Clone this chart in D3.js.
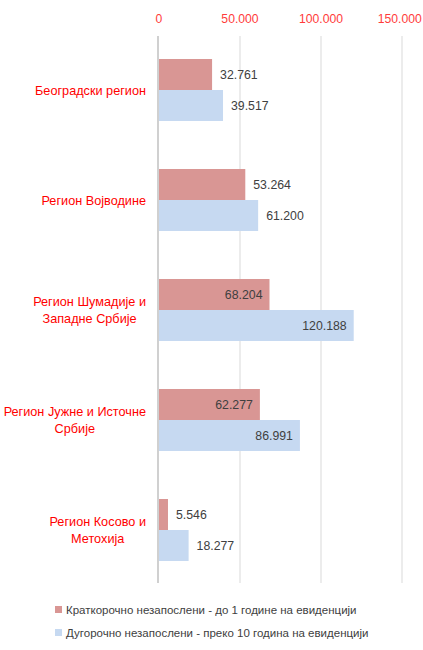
<!DOCTYPE html>
<html><head><meta charset="utf-8">
<script src="https://cdn.jsdelivr.net/npm/d3@7"></script>
<style>body{margin:0;background:#fff}svg{display:block}text{font-family:"Liberation Sans",Arial,sans-serif}</style>
</head><body>
<svg id="c" width="423" height="650"></svg>
<script>
const categories = [
  ["Београдски регион"],
  ["Регион Војводине"],
  ["Регион Шумадије и", "Западне Србије"],
  ["Регион Јужне и Источне", "Србије"],
  ["Регион Косово и", "Метохија"]
];
const seriesNames = [
  "Краткорочно незапослени - до 1 године на евиденцији",
  "Дугорочно незапослени - преко 10 година на евиденцији"
];
const shortTerm = [32761, 53264, 68204, 62277, 5546];
const longTerm = [39517, 61200, 120188, 86991, 18277];
// label placement: true = inside end of bar
const shortInside = [false, false, true, true, false];
const longInside = [false, false, true, true, false];
const xTicks = [0, 50000, 100000, 150000];
const colors = ["#d99694", "#c6d9f1"];

const loc = d3.formatLocale({thousands: ".", decimal: ",", grouping: [3], currency: ["", ""]});
const fmt = loc.format(",d");

const svg = d3.select("#c");
const x = d3.scaleLinear().domain([0, 150000]).range([159, 402]);
const y0 = d3.scaleBand().domain(categories.map((d, i) => i)).range([35, 585])
  .paddingInner(0.4364).paddingOuter(0.2182);
const y1 = d3.scaleBand().domain([0, 1]).range([0, y0.bandwidth()]);

// gridlines
svg.append("g").selectAll("line").data(xTicks.slice(1)).join("line")
  .attr("x1", d => x(d)).attr("x2", d => x(d)).attr("y1", 36).attr("y2", 583)
  .attr("stroke", "#d9d9d9").attr("stroke-width", 1);

// tick labels
svg.append("g").selectAll("text").data(xTicks).join("text")
  .attr("x", d => x(d)).attr("y", 23).attr("text-anchor", "middle")
  .attr("font-size", 12.2).attr("fill", "#ff3b3b").text(d => fmt(d))
  .each(function() {
    const b = this.getBBox();
    if (b.x + b.width > 422) d3.select(this).attr("x", +d3.select(this).attr("x") - (b.x + b.width - 422));
  });

const data = categories.map((c, i) => ({i, vals: [shortTerm[i], longTerm[i]], inside: [shortInside[i], longInside[i]]}));

const g = svg.append("g");
data.forEach(d => {
  d.vals.forEach((v, s) => {
    const yy = y0(d.i) + y1(s);
    g.append("rect").attr("x", x(0)).attr("y", yy).attr("width", x(v) - x(0)).attr("height", y1.bandwidth())
      .attr("fill", colors[s]);
    const ins = d.inside[s];
    g.append("text").attr("x", ins ? x(v) - 7 : x(v) + 8).attr("y", yy + y1.bandwidth() / 2 + 4.5)
      .attr("text-anchor", ins ? "end" : "start").attr("font-size", 12.3).attr("fill", "#404040")
      .text(fmt(v));
  });
});

// zero axis line
svg.append("line").attr("x1", x(0) - 1).attr("x2", x(0) - 1).attr("y1", 36).attr("y2", 583)
  .attr("stroke", "#d0d0d0").attr("stroke-width", 2);

// category labels
const lg = svg.append("g");
categories.forEach((lines, i) => {
  const cy = y0(i) + y0.bandwidth() / 2;
  const t = lg.append("text").attr("font-size", 12.7).attr("fill", "#ff0000").attr("text-anchor", "middle");
  const lh = 17;
  lines.forEach((ln, k) => {
    t.append("tspan").attr("x", 0).attr("y", cy + 4.5 + (k - (lines.length - 1) / 2) * lh).text(ln);
  });
  const w = t.node().getBBox().width;
  t.selectAll("tspan").attr("x", 146 - w / 2);
});

// legend
const leg = svg.append("g");
seriesNames.forEach((n, s) => {
  const ly = 610 + s * 23;
  leg.append("rect").attr("x", 55).attr("y", ly - 4).attr("width", 7).attr("height", 7).attr("fill", colors[s]);
  leg.append("text").attr("x", 66).attr("y", ly + 4).attr("font-size", 11.5).attr("fill", "#404040").text(n);
});
</script>
</body></html>
